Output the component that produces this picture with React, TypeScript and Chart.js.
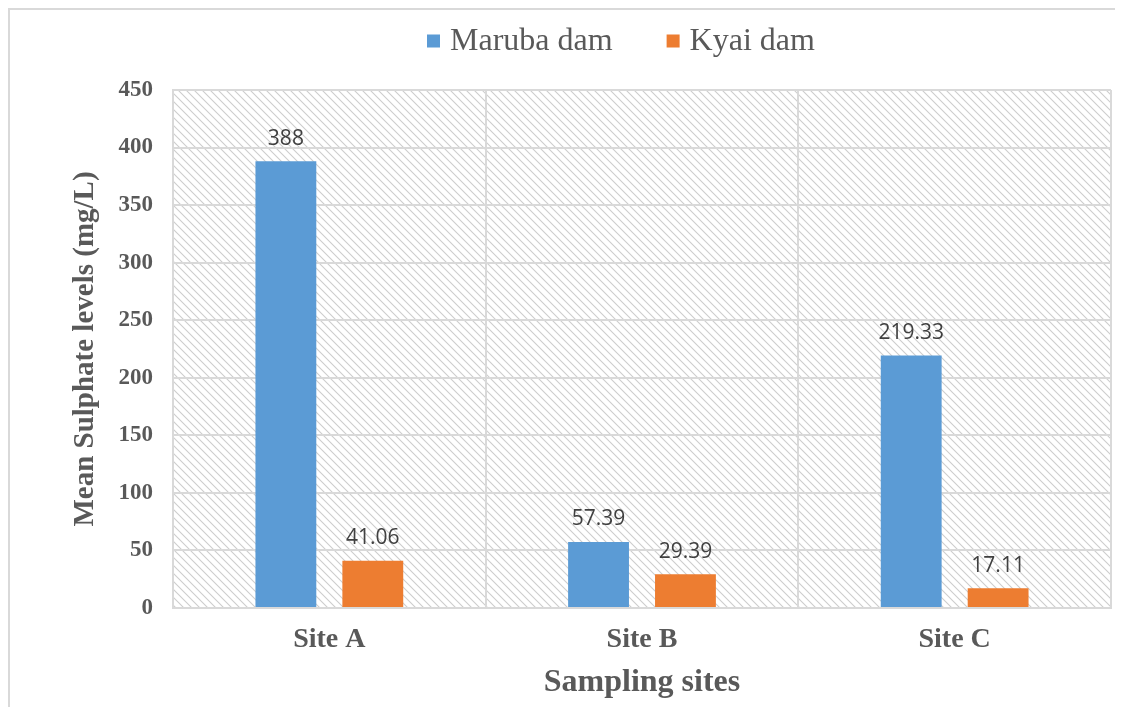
import React, { useEffect, useRef } from "react";
import { Chart, registerables } from "chart.js";

Chart.register(...registerables);

const categories = ["Site A", "Site B", "Site C"];
const marubaValues = [388, 57.39, 219.33];
const kyaiValues = [41.06, 29.39, 17.11];
const seriesNames = ["Maruba dam", "Kyai dam"];
const seriesColors = ["#5B9BD5", "#ED7D31"];
const yTicks = [0, 50, 100, 150, 200, 250, 300, 350, 400, 450];

const SERIF = "'Liberation Serif', 'Times New Roman', serif";
const TEXT = "#595959";

function makePattern(): CanvasPattern | string {
  const c = document.createElement("canvas");
  const s = 8;
  c.width = s;
  c.height = s;
  const g = c.getContext("2d");
  if (!g) return "#fff";
  g.fillStyle = "#ffffff";
  g.fillRect(0, 0, s, s);
  g.strokeStyle = "#cdcdcd";
  g.lineWidth = 1.1;
  g.beginPath();
  g.moveTo(-1, -1);
  g.lineTo(s + 1, s + 1);
  g.moveTo(-1, s - 1);
  g.lineTo(1, s + 1);
  g.moveTo(s - 1, -1);
  g.lineTo(s + 1, 1);
  g.stroke();
  const p = g.createPattern(c, "repeat");
  return p || "#fff";
}

const hatchPlugin = {
  id: "hatchBg",
  beforeDraw(chart: any) {
    const { ctx, chartArea } = chart;
    if (!chartArea) return;
    ctx.save();
    ctx.fillStyle = makePattern();
    ctx.fillRect(chartArea.left, chartArea.top, chartArea.right - chartArea.left, chartArea.bottom - chartArea.top);
    ctx.restore();
  },
};

const valueLabelPlugin = {
  id: "valueLabels",
  afterDatasetsDraw(chart: any) {
    const { ctx } = chart;
    ctx.save();
    ctx.font = "21px 'Open Sans', sans-serif";
    ctx.fillStyle = "#404040";
    ctx.textAlign = "center";
    ctx.textBaseline = "bottom";
    chart.data.datasets.forEach((ds: any, di: number) => {
      const meta = chart.getDatasetMeta(di);
      meta.data.forEach((el: any, i: number) => {
        const v = ds.data[i];
        ctx.fillText(String(v), el.x, el.y - 12);
      });
    });
    ctx.restore();
  },
};

const legendPlugin = {
  id: "customLegend",
  afterDraw(chart: any) {
    const { ctx } = chart;
    ctx.save();
    ctx.font = `32px ${SERIF}`;
    ctx.textBaseline = "middle";
    const box = 13;
    const gapBoxText = 10;
    const gapItems = 54;
    const items = chart.data.datasets.map((d: any) => ({ text: d.label, color: d.backgroundColor }));
    const widths = items.map((it: any) => box + gapBoxText + ctx.measureText(it.text).width);
    let x = 417;
    const y = 31;
    items.forEach((it: any, i: number) => {
      ctx.fillStyle = it.color;
      ctx.fillRect(x, y - box / 2, box, box);
      ctx.fillStyle = TEXT;
      ctx.textAlign = "left";
      ctx.fillText(it.text, x + box + gapBoxText, y + 1);
      x += widths[i] + gapItems;
    });
    ctx.restore();
  },
};

export default function App() {
  const ref = useRef<HTMLCanvasElement | null>(null);
  useEffect(() => {
    if (!ref.current) return;
    const chart = new Chart(ref.current, {
      type: "bar",
      data: {
        labels: categories,
        datasets: [
          { label: seriesNames[0], data: marubaValues, backgroundColor: seriesColors[0], categoryPercentage: 0.556, barPercentage: 0.7 },
          { label: seriesNames[1], data: kyaiValues, backgroundColor: seriesColors[1], categoryPercentage: 0.556, barPercentage: 0.7 },
        ],
      },
      options: {
        animation: false,
        responsive: false,
        maintainAspectRatio: false,
        layout: { padding: { top: 80, right: 4, left: 0, bottom: 0 } },
        plugins: { legend: { display: false }, tooltip: { enabled: false } },
        scales: {
          x: {
            grid: { color: "#d9d9d9", lineWidth: 2, drawTicks: false, offset: true },
            border: { color: "#d9d9d9", width: 2 },
            ticks: { color: TEXT, font: { family: SERIF, size: 28, weight: "bold" }, padding: 15 },
            title: { display: true, text: "Sampling sites", color: TEXT, font: { family: SERIF, size: 32, weight: "bold" }, padding: { top: 0, bottom: 5 } },
            afterFit(scale: any) {
              scale.height = 99;
            },
          },
          y: {
            min: 0,
            max: 450,
            afterBuildTicks(scale: any) {
              scale.ticks = yTicks.map((v) => ({ value: v }));
            },
            grid: { color: "#d9d9d9", lineWidth: 2, drawTicks: false },
            border: { color: "#d9d9d9", width: 2 },
            ticks: { color: TEXT, font: { family: SERIF, size: 23, weight: "bold" }, padding: 20 },
            title: { display: true, text: "Mean Sulphate levels (mg/L)", color: TEXT, font: { family: SERIF, size: 29, weight: "bold" }, padding: { top: 58, bottom: 0 } },
            afterFit(scale: any) {
              scale.width = 163;
            },
          },
        },
      },
      plugins: [hatchPlugin, valueLabelPlugin, legendPlugin],
    });
    return () => chart.destroy();
  }, []);
  return (
    <div style={{ width: 1107, height: 699, boxSizing: "border-box", borderTop: "2px solid #d9d9d9", borderLeft: "2px solid #d9d9d9", background: "#fff" }}>
      <canvas ref={ref} width={1105} height={697} style={{ display: "block", width: 1105, height: 697 }} />
    </div>
  );
}
